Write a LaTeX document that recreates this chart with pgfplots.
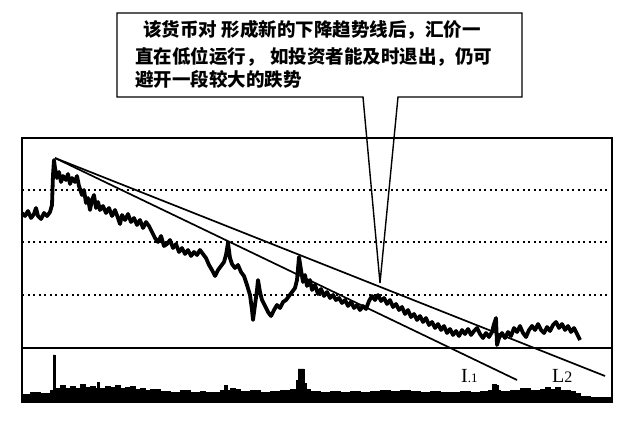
\documentclass[border=0pt]{standalone}
\usepackage{pgfplots}
\pgfplotsset{compat=1.18}
\usepackage{fontspec}
\setmainfont{Liberation Serif}
\newfontfamily\cjk{Noto Sans CJK SC}
\begin{document}
\begin{tikzpicture}
\useasboundingbox[fill=white] (0pt,0pt) rectangle (640pt,-425pt);
% ---------------- price panel (pixel-read values, y downward) ----------------
\begin{axis}[at={(22pt,-348pt)}, anchor=south west, scale only axis,
  width=590pt, height=210pt, xmin=22, xmax=612, ymin=138, ymax=348, y dir=reverse,
  xtick=\empty, ytick={190,242,295}, yticklabels={}, major tick length=0pt,
  ymajorgrids, grid style={black, line width=1.1pt, dash pattern=on 2pt off 3.5pt},
  axis line style={line width=1.3pt}, clip=false]
\addplot[black, line width=3.8pt, line join=round] coordinates {
(22,213)(25,216)(28,211)(31,218)(34,214)(36,208)(38,216)(41,219)(44,213)(47,216)(50,212)(52,205)(53,175)(54,160)(55,168)(57,178)(59,172)(61,182)(63,176)(66,180)(68,174)(70,184)(72,178)(75,182)(77,176)(79,186)(82,195)(84,190)(86,203)(88,198)(90,210)(92,200)(94,195)(96,208)(98,202)(100,210)(103,206)(106,213)(109,208)(112,216)(115,210)(118,218)(120,224)(122,215)(125,220)(128,214)(131,222)(134,218)(137,225)(140,220)(143,228)(146,222)(149,226)(152,232)(155,238)(158,242)(161,236)(164,246)(167,244)(170,240)(173,248)(176,244)(179,252)(182,248)(185,254)(188,250)(191,256)(194,252)(197,255)(200,250)(203,254)(206,258)(209,265)(212,270)(215,276)(218,270)(221,266)(224,262)(226,255)(228,243)(230,258)(232,264)(235,268)(238,265)(241,272)(244,276)(247,285)(250,295)(252,310)(253,320)(255,305)(257,290)(258,280)(260,292)(262,300)(265,306)(268,312)(271,316)(274,310)(277,305)(280,308)(283,302)(286,300)(289,296)(292,292)(295,288)(297,280)(299,257)(301,270)(303,282)(305,275)(307,286)(310,280)(312,290)(315,285)(318,294)(321,289)(324,296)(327,292)(330,298)(333,295)(336,300)(339,298)(342,303)(345,300)(348,306)(351,302)(354,308)(357,305)(360,310)(363,306)(366,309)(369,301)(372,296)(375,300)(378,295)(381,301)(384,298)(387,304)(390,300)(393,307)(396,304)(399,310)(402,307)(405,314)(408,310)(411,317)(414,314)(417,320)(420,316)(423,322)(426,318)(429,325)(432,322)(435,328)(438,324)(441,330)(444,326)(447,333)(450,329)(453,335)(456,331)(459,336)(462,330)(465,334)(468,329)(471,335)(474,331)(477,328)(480,334)(483,338)(486,333)(489,337)(492,332)(494,324)(496,318)(497,345)(499,338)(502,333)(505,338)(508,332)(511,336)(514,328)(517,332)(520,326)(523,333)(526,337)(529,330)(532,326)(535,330)(538,324)(541,330)(544,333)(547,327)(550,331)(553,325)(556,322)(559,328)(562,324)(565,330)(568,326)(571,332)(574,328)(577,334)(580,340)
};
% trend lines L1, L2
\addplot[black, line width=1.7pt] coordinates {(55,158)(517,380)};
\addplot[black, line width=1.7pt] coordinates {(55,158)(605,376)};
\node[anchor=base west, inner sep=0pt] at (axis cs:461,382) {\fontsize{20}{20}\selectfont I{\fontsize{13}{13}\selectfont .1}};
\node[anchor=base west, inner sep=0pt] at (axis cs:552,382) {\fontsize{20}{20}\selectfont L{\fontsize{16}{16}\selectfont 2}};
% callout
\draw[line width=1.4pt, line join=miter] (axis cs:380,283) -- (axis cs:363,97) -- (axis cs:117,97) -- (axis cs:117,13) -- (axis cs:522,13) -- (axis cs:522,97) -- (axis cs:398,97) -- (axis cs:380,283);
\node[anchor=base west, inner sep=0pt] at (axis cs:143,36) {\cjk\bfseries\fontsize{18.5}{20}\selectfont 该货币对\hspace{0.25em}形成新的下降趋势线后，汇价一};
\node[anchor=base west, inner sep=0pt] at (axis cs:135,63) {\cjk\bfseries\fontsize{18.5}{20}\selectfont 直在低位运行，\hspace{0.3em}如投资者能及时退出，仍可};
\node[anchor=base west, inner sep=0pt] at (axis cs:135,86) {\cjk\bfseries\fontsize{18.5}{20}\selectfont 避开一段较大的跌势};
\end{axis}
% ---------------- volume panel ----------------
\begin{axis}[at={(22pt,-402pt)}, anchor=south west, scale only axis,
  width=590pt, height=54pt, xmin=22, xmax=612, ymin=0, ymax=54,
  xtick=\empty, ytick=\empty, axis line style={line width=1.3pt}]
\addplot[const plot, fill=black, draw=black, line width=0.8pt] coordinates {
(22,8)(30,10)(40,9)(50,12)(52,12)(53,47)(55,14)(60,17)(65,14)(70,16)(75,14)(80,18)(85,15)(90,16)(95,14)(97,20)(99,14)(105,16)(110,15)(115,17)(120,14)(125,15)(130,16)(135,13)(140,14)(145,12)(150,13)(160,11)(170,10)(180,12)(190,10)(200,11)(205,10)(210,10)(220,12)(224,17)(227,12)(230,14)(235,13)(240,11)(250,12)(260,10)(270,11)(280,12)(290,13)(296,22)(298,33)(303,33)(304,19)(306,13)(310,11)(320,10)(330,11)(340,10)(350,11)(360,10)(370,11)(380,12)(390,11)(400,12)(410,11)(420,10)(430,11)(440,10)(450,10)(460,11)(470,10)(480,11)(488,12)(492,18)(496,17)(498,12)(500,11)(510,12)(520,14)(530,12)(540,13)(545,15)(550,13)(555,15)(560,12)(570,11)(575,9)(580,6)(590,5)(612,5)
} \closedcycle;
\end{axis}
\end{tikzpicture}
\end{document}
